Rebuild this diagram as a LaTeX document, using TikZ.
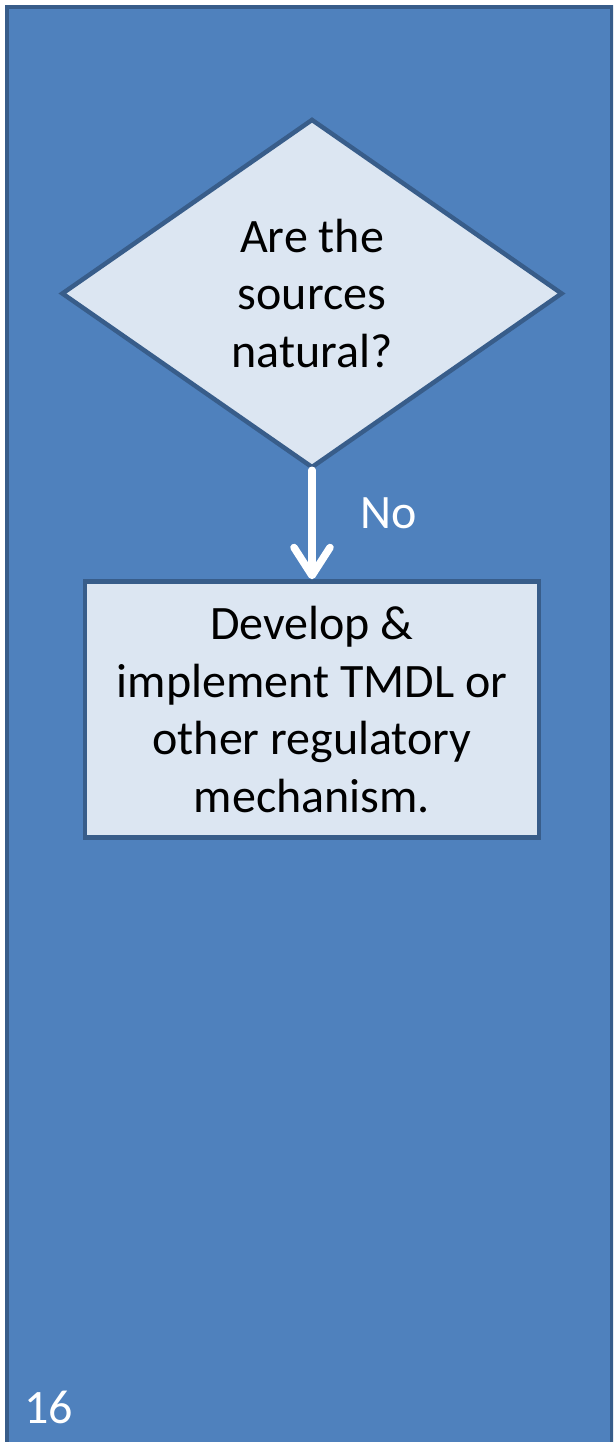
\documentclass[tikz,border=0pt]{standalone}
\usepackage{fontspec}
\setmainfont{Carlito}
\usetikzlibrary{shapes.geometric,arrows.meta}

\definecolor{slideblue}{HTML}{4F81BD}
\definecolor{edgeblue}{HTML}{385D8A}
\definecolor{paleblue}{HTML}{DCE6F2}

\tikzstyle{bigtext}=[font=\fontsize{48}{57.5}\selectfont]
\tikzstyle{decision}=[shape=diamond,draw=edgeblue,fill=paleblue,line width=4.5pt,minimum width=501pt,minimum height=349pt,inner sep=0pt,align=center,bigtext]
\tikzstyle{process}=[shape=rectangle,draw=edgeblue,fill=paleblue,line width=4.5pt,minimum width=454pt,minimum height=256pt,inner sep=0pt,align=center,bigtext]
\tikzstyle{mainedge}=[-{Straight Barb[length=28pt,width=36pt,round]},white,line width=7.5pt,line cap=round]
\tikzstyle{whitelabel}=[text=white,inner sep=0pt,bigtext]

\begin{document}
\begin{tikzpicture}[x=1pt,y=-1pt]
\useasboundingbox (0,0) rectangle (613,1442);
\clip (0,0) rectangle (613,1442);
% panel
\draw[fill=slideblue,draw=edgeblue,line width=4pt] (7,7) rectangle (612,1470);
% flow
\node[decision] (q) at (312,293.5) {Are the\\sources\\natural?};
\node[process] (d) at (312,709.5) {Develop \&\\implement TMDL or\\other regulatory\\mechanism.};
\draw[mainedge] (q.south) -- (d.north);
\node[whitelabel,anchor=base west] (no) at (360,528) {No};
% slide number
\node[whitelabel,anchor=base west] (num) at (24,1423) {16};
\end{tikzpicture}
\end{document}
